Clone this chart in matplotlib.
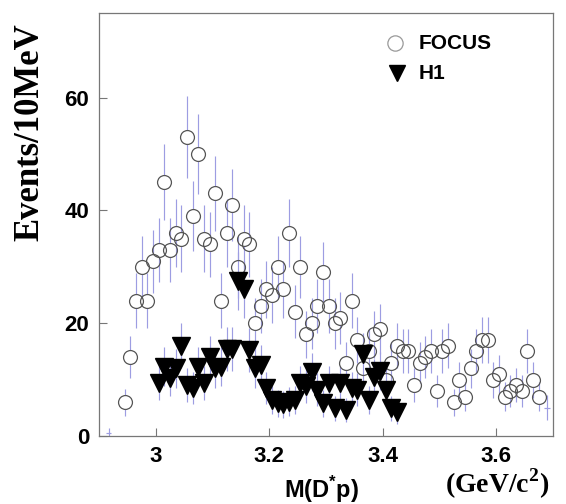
"""D*p invariant mass: FOCUS vs H1"""
import matplotlib
matplotlib.use('Agg')
import matplotlib.pyplot as plt
import numpy as np
from matplotlib.collections import LineCollection

plt.rcParams['font.family'] = ['Liberation Sans', 'DejaVu Sans']
plt.rcParams['mathtext.fontset'] = 'custom'
plt.rcParams['mathtext.rm'] = 'Liberation Sans:bold'
plt.rcParams['mathtext.bf'] = 'Liberation Sans:bold'

# FOCUS, 10 MeV bins starting at 2.945 GeV
focus_x0 = 2.945
focus_counts = [6, 14, 24, 30, 24, 31, 33, 45, 33, 36,
                35, 53, 39, 50, 35, 34, 43, 24, 36, 41,
                30, 35, 34, 20, 23, 26, 25, 30, 26, 36,
                22, 30, 18, 20, 23, 29, 23, 20, 21, 13,
                24, 17, 12, 15, 18, 19, 10, 13, 16, 15,
                15, 9, 13, 14, 15, 8, 15, 16, 6, 10,
                7, 12, 15, 17, 17, 10, 11, 7, 8, 9,
                8, 15, 10, 7]
focus_err = [2.4, 3.7, 4.9, 5.5, 4.9, 5.6, 5.7, 6.7, 5.7, 6.0,
             5.9, 7.3, 6.2, 7.1, 5.9, 5.8, 6.6, 4.9, 6.0, 6.4,
             5.5, 5.9, 5.8, 4.5, 4.8, 5.1, 5.0, 5.5, 5.1, 6.0,
             4.7, 5.5, 4.2, 4.5, 4.8, 5.4, 4.8, 4.5, 4.6, 3.6,
             4.9, 4.1, 3.5, 3.9, 4.2, 4.4, 3.2, 3.6, 4.0, 3.9,
             3.9, 3.0, 3.6, 3.7, 3.9, 2.8, 3.9, 4.0, 2.4, 3.2,
             2.6, 3.5, 3.9, 4.1, 4.1, 3.2, 3.3, 2.6, 2.8, 3.0,
             2.8, 3.9, 3.2, 2.6]
# empty / edge bins drawn as bare crosses
edge_x = [2.917, 3.690]
edge_y = [0.5, 5.0]
edge_err = [1.0, 2.2]

# H1, 10 MeV bins starting at 3.005 GeV
h1_x0 = 3.005
h1_counts = [9.4, 12.3, 10.3, 12.0, 16.0, 9.0, 8.5, 12.3, 9.4, 14.0,
             12.0, 12.3, 15.5, 15.5, 27.5, 26.0, 15.3, 12.0, 12.6, 8.5,
             6.4, 5.8, 5.6, 6.1, 6.4, 9.4, 8.8, 11.4, 8.2, 5.8,
             9.4, 4.9, 9.4, 4.6, 8.5, 8.2, 14.5, 6.4, 10.5, 11.5,
             8.2, 4.9, 4.3]
h1_err = [3.1, 3.5, 3.2, 3.5, 4.0, 3.0, 2.9, 3.5, 3.1, 3.7,
          3.5, 3.5, 3.9, 3.9, 5.2, 5.1, 3.9, 3.5, 3.5, 2.9,
          2.5, 2.4, 2.4, 2.5, 2.5, 3.1, 3.0, 3.4, 2.9, 2.4,
          3.1, 2.2, 3.1, 2.1, 2.9, 2.9, 3.8, 2.5, 3.2, 3.4,
          2.9, 2.2, 2.1]
bin_w = 0.01

focus_x = focus_x0 + bin_w * np.arange(len(focus_counts))
h1_x = h1_x0 + bin_w * np.arange(len(h1_counts))

ERR = '#9d9de2'
CIRC = '#555555'

fig = plt.figure(figsize=(5.66, 5.04), dpi=100, facecolor='white')
ax = fig.add_axes([99 / 566, 68 / 504, 454 / 566, 423 / 504])
ax.set_xlim(2.9, 3.7)
ax.set_ylim(0, 75)

# marker half-size in data units, so the bars stop at the marker edge
px_per_y = 423 / 75


def bars(x, y, e, gap):
    segs = []
    for xi, yi, ei in zip(x, y, e):
        if ei > gap:
            segs.append([(xi, yi + gap), (xi, yi + ei)])
            segs.append([(xi, max(yi - ei, 0)), (xi, yi - gap)])
    return LineCollection(segs, colors=ERR, linewidths=0.85, zorder=1)


ax.add_collection(bars(focus_x, focus_counts, focus_err, 7.0 / px_per_y))
ax.add_collection(bars(h1_x, h1_counts, h1_err, 7.5 / px_per_y))

ax.errorbar(edge_x, edge_y, yerr=edge_err, xerr=0.005, fmt='none',
            ecolor=ERR, elinewidth=0.85, zorder=1)

ax.plot(focus_x, focus_counts, 'o', ms=10, mfc='none', mec=CIRC, mew=0.9,
        ls='none', zorder=2)
ax.plot(h1_x, h1_counts, 'v', ms=13, color='black', ls='none', zorder=3)

# axes styling
for side in ['top', 'right', 'left', 'bottom']:
    ax.spines[side].set_color('#777777')
    ax.spines[side].set_linewidth(0.9)
ax.set_xticks([3.0, 3.2, 3.4, 3.6])
ax.set_xticklabels(['3', '3.2', '3.4', '3.6'])
ax.set_yticks([0, 20, 40, 60])
ax.tick_params(direction='in', length=6, width=0.8, color='#777777',
               labelsize=16, pad=7)
for lab in ax.get_xticklabels() + ax.get_yticklabels():
    lab.set_fontweight('bold')

# legend
ax.plot([0.652], [0.929], 'o', ms=11, mfc='none', mec='#999999', mew=0.9,
        transform=ax.transAxes, clip_on=False)
ax.plot([0.656], [0.857], 'v', ms=12, color='black',
        transform=ax.transAxes, clip_on=False)
ax.text(0.703, 0.929, 'FOCUS', transform=ax.transAxes, ha='left', va='center',
        fontweight='bold', fontsize=15)
ax.text(0.703, 0.857, 'H1', transform=ax.transAxes, ha='left', va='center',
        fontweight='bold', fontsize=15)

# axis titles
fig.text(30 / 566, 1 - 132 / 504, 'Events/10MeV', rotation=90, ha='center', va='center',
         family='Liberation Serif', fontweight='bold', fontsize=25)
fig.text(322 / 566, 1 - 490 / 504, r'M(D$^{*}$p)', ha='center', va='center',
         fontweight='bold', fontsize=17)
fig.text(497 / 566, 1 - 484 / 504, r'(GeV/c$^{\mathregular{2}}$)', ha='center', va='center',
         family='Liberation Serif', fontweight='bold', fontsize=20)

fig.savefig('out.png', dpi=100, facecolor='white')
plt.close()
